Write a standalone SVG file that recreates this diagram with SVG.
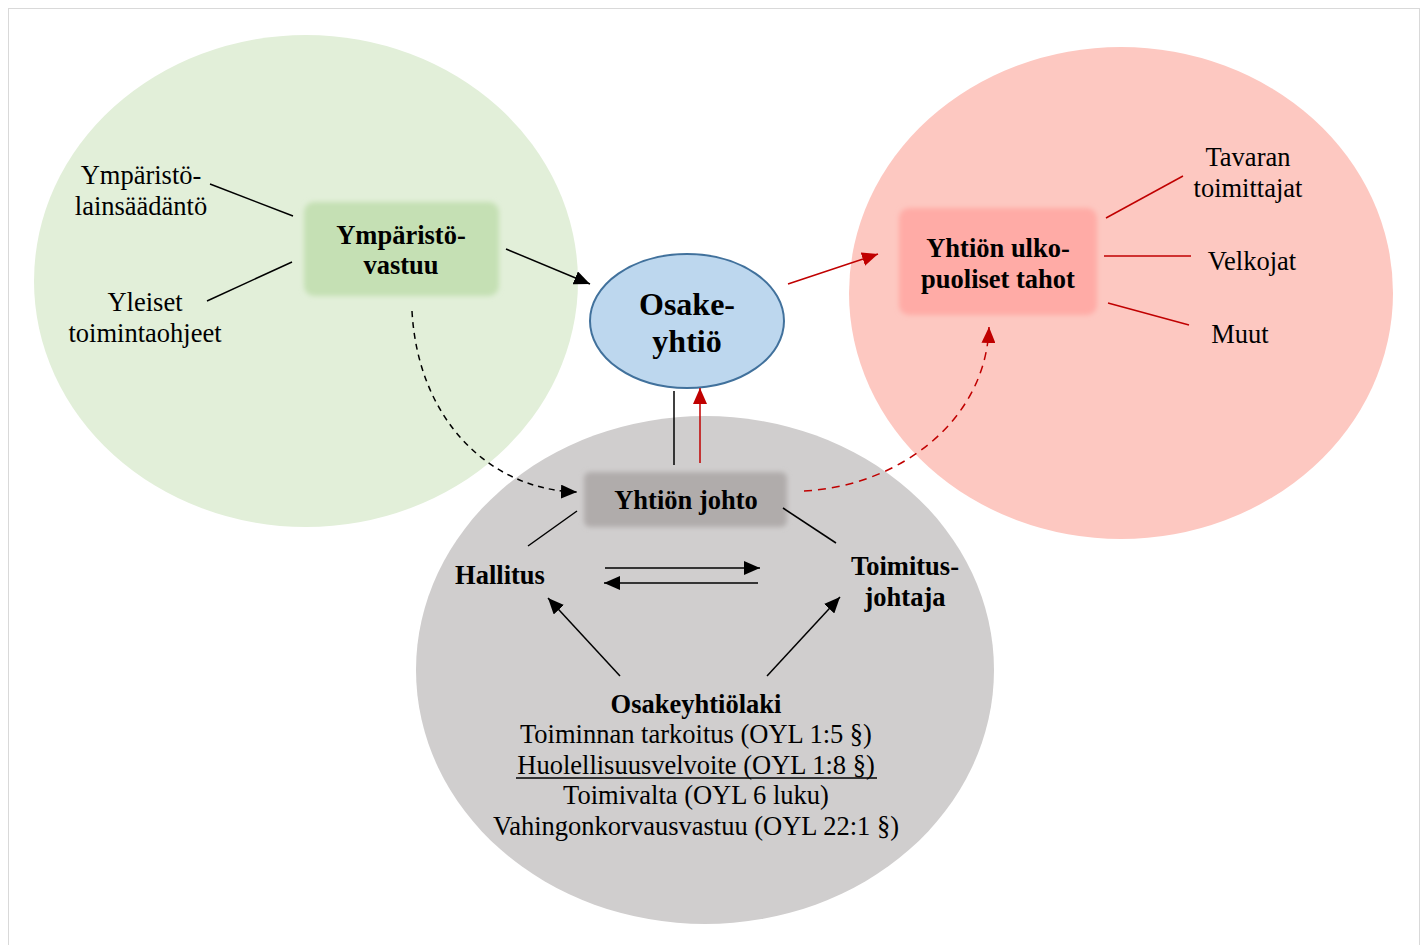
<svg xmlns="http://www.w3.org/2000/svg" width="1427" height="945" viewBox="0 0 1427 945">
<defs>
<style>
.t{font-family:"Liberation Serif","Times New Roman",serif;font-size:26.5px;fill:#000;text-anchor:middle}
.b{font-weight:bold;font-size:26.5px}
.ln{stroke:#000;stroke-width:1.5;fill:none}
.rl{stroke:#c00000;stroke-width:1.5;fill:none}
</style>
<filter id="soft" x="-10%" y="-20%" width="120%" height="140%"><feGaussianBlur stdDeviation="2.5"/></filter>
<marker id="ab" markerUnits="userSpaceOnUse" markerWidth="18" markerHeight="14" refX="16" refY="7" orient="auto"><path d="M0,0 L16,7 L0,14 z" fill="#000"/></marker>
<marker id="ar" markerUnits="userSpaceOnUse" markerWidth="18" markerHeight="14" refX="16" refY="7" orient="auto"><path d="M0,0 L16,7 L0,14 z" fill="#c00000"/></marker>
</defs>
<rect x="0" y="0" width="1427" height="945" fill="#fff"/>
<rect x="8.5" y="8.5" width="1411" height="950" fill="none" stroke="#d9d9d9" stroke-width="1"/>

<g id="green-area"><ellipse cx="306" cy="281" rx="272" ry="246" fill="#e2efd9"/></g>
<g id="red-area"><ellipse cx="1121" cy="293" rx="272" ry="246" fill="#fdc8c1"/></g>
<g id="gray-area"><ellipse cx="705" cy="670" rx="289" ry="254" fill="#d0cece"/></g>

<g id="ymparistovastuu">
<rect x="304" y="202" width="195" height="94" rx="10" fill="#c5e0b4" filter="url(#soft)"/>
<text class="t b" x="401" y="244">Ympäristö-</text>
<text class="t b" x="401" y="274">vastuu</text>
</g>
<g id="osakeyhtio">
<ellipse cx="687" cy="321" rx="97" ry="67" fill="#bdd7ee" stroke="#41719c" stroke-width="2"/>
<text class="t b" x="687" y="315" style="font-size:32px">Osake-</text>
<text class="t b" x="687" y="352" style="font-size:32px">yhtiö</text>
</g>
<g id="ulkopuoliset">
<rect x="899" y="208" width="198" height="107" rx="10" fill="#ffaba6" filter="url(#soft)"/>
<text class="t b" x="998" y="257">Yhtiön ulko-</text>
<text class="t b" x="998" y="288">puoliset tahot</text>
</g>
<g id="yhtion-johto">
<rect x="584" y="472" width="203" height="55" rx="6" fill="#b0acab" filter="url(#soft)"/>
<text class="t b" x="686" y="509">Yhtiön johto</text>
</g>
<g id="hallitus"><text class="t b" x="500" y="584">Hallitus</text></g>
<g id="toimitusjohtaja">
<text class="t b" x="905" y="575">Toimitus-</text>
<text class="t b" x="905" y="606">johtaja</text>
</g>
<g id="osakeyhtiolaki">
<text class="t b" x="696" y="713">Osakeyhtiölaki</text>
<text class="t" x="696" y="743">Toiminnan tarkoitus (OYL 1:5 §)</text>
<text class="t" x="696" y="774">Huolellisuusvelvoite (OYL 1:8 §)</text>
<line x1="516" y1="778" x2="877" y2="778" stroke="#000" stroke-width="1.5"/>
<text class="t" x="696" y="804">Toimivalta (OYL 6 luku)</text>
<text class="t" x="696" y="835">Vahingonkorvausvastuu (OYL 22:1 §)</text>
</g>
<g id="ymparistolainsaadanto">
<text class="t" x="141" y="184">Ympäristö-</text>
<text class="t" x="141" y="215">lainsäädäntö</text>
</g>
<g id="yleiset">
<text class="t" x="145" y="311">Yleiset</text>
<text class="t" x="145" y="342">toimintaohjeet</text>
</g>
<g id="tavaran"><text class="t" x="1248" y="166">Tavaran</text><text class="t" x="1248" y="197">toimittajat</text></g>
<g id="velkojat"><text class="t" x="1252" y="270">Velkojat</text></g>
<g id="muut"><text class="t" x="1240" y="343">Muut</text></g>

<g id="connectors">
<line class="ln" x1="210" y1="184" x2="293" y2="216"/>
<line class="ln" x1="207" y1="301" x2="292" y2="262"/>
<line class="ln" x1="506" y1="249" x2="590" y2="284" marker-end="url(#ab)"/>
<line class="rl" x1="788" y1="284" x2="878" y2="254" marker-end="url(#ar)"/>
<line class="rl" x1="1106" y1="218" x2="1183" y2="176"/>
<line class="rl" x1="1104" y1="256" x2="1191" y2="256"/>
<line class="rl" x1="1108" y1="303" x2="1189" y2="325"/>
<line class="ln" x1="674" y1="391" x2="674" y2="465"/>
<line class="rl" x1="700" y1="463" x2="700" y2="388" marker-end="url(#ar)"/>
<path class="ln" d="M412,311 C418,420 490,490 577,492" stroke-dasharray="6,5" marker-end="url(#ab)"/>
<path class="rl" d="M804,491 C900,486 986,420 989,327" stroke-width="2" stroke-dasharray="8,6" marker-end="url(#ar)"/>
<line class="ln" x1="528" y1="546" x2="577" y2="511"/>
<line class="ln" x1="783" y1="508" x2="836" y2="543"/>
<line class="ln" x1="605" y1="568" x2="760" y2="568" marker-end="url(#ab)"/>
<line class="ln" x1="758" y1="583" x2="604" y2="583" marker-end="url(#ab)"/>
<line class="ln" x1="620" y1="676" x2="548" y2="598" marker-end="url(#ab)"/>
<line class="ln" x1="767" y1="676" x2="840" y2="597" marker-end="url(#ab)"/>
</g>
</svg>
